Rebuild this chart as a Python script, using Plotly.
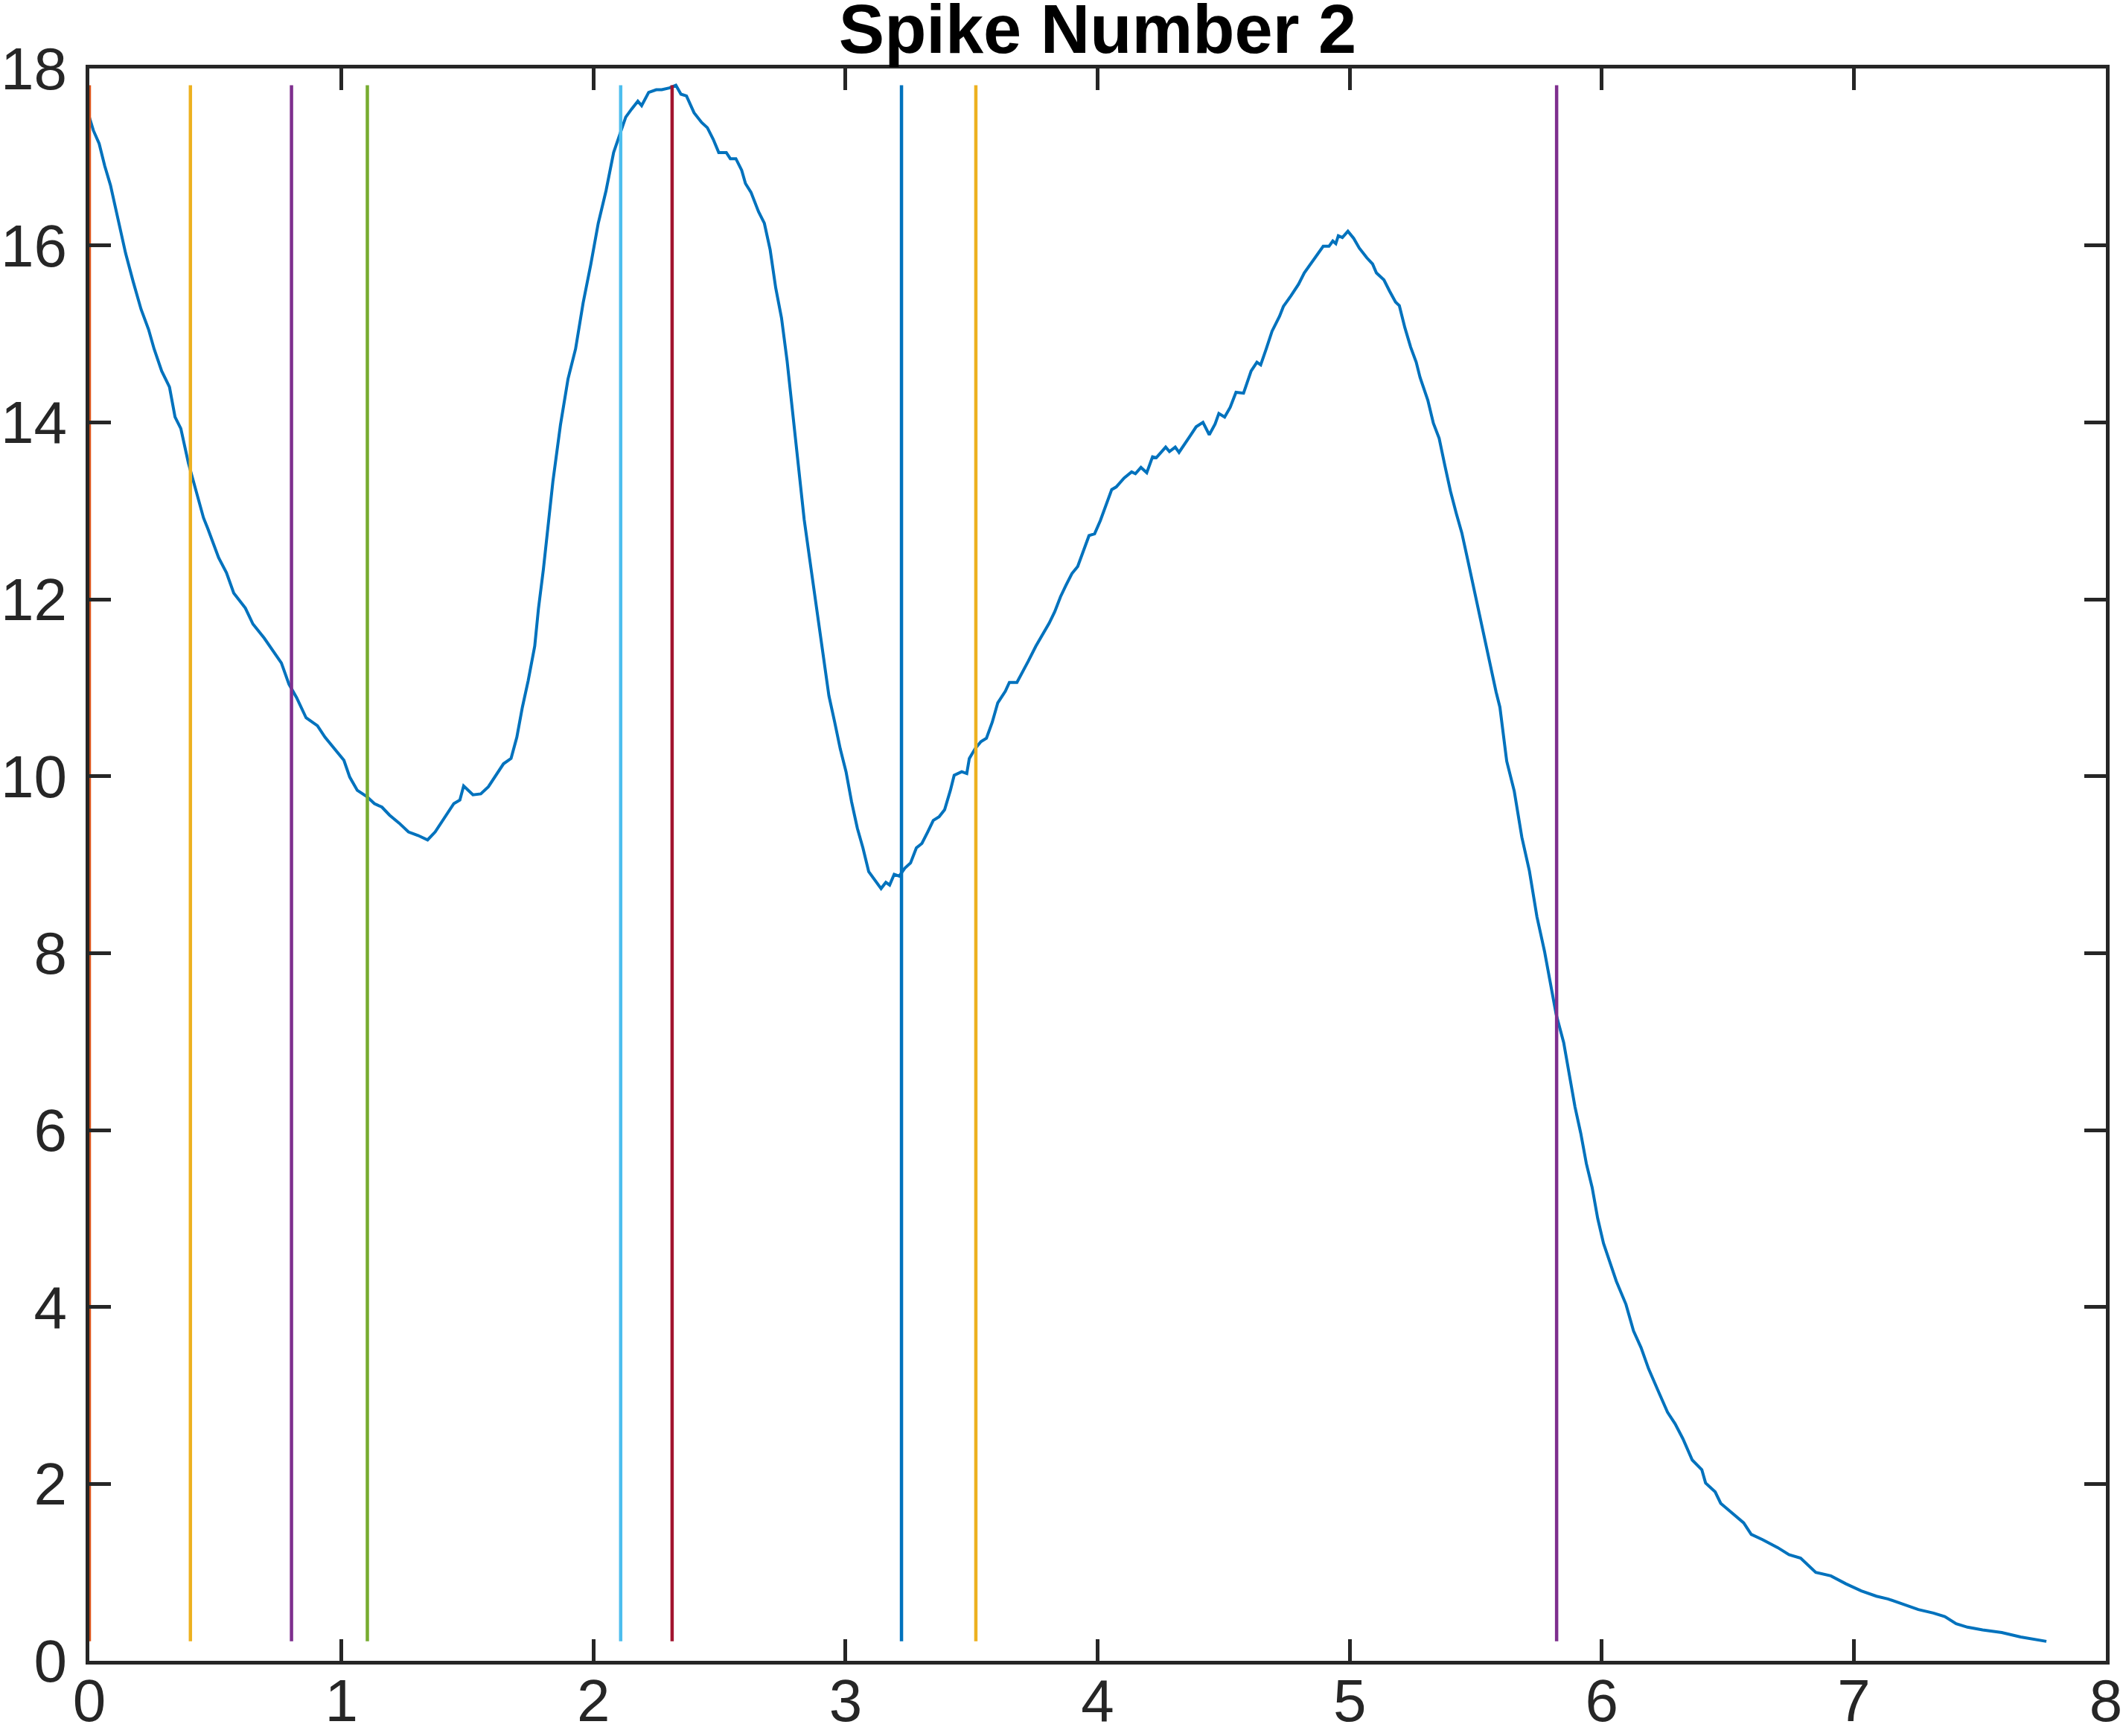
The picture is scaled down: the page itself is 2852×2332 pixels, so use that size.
"""
Spike Number 2 - trace with event markers, redrawn with Plotly
"""

import plotly.graph_objects as go

# time axis of the trace
t_values = [
    0.000, 0.016, 0.039, 0.061, 0.084, 0.107, 0.122, 0.144, 0.174, 0.205,
    0.235, 0.257, 0.287, 0.318, 0.340, 0.363, 0.393, 0.423, 0.453, 0.470,
    0.513, 0.544, 0.573, 0.619, 0.649, 0.694, 0.724, 0.762, 0.792, 0.822,
    0.860, 0.905, 0.935, 0.980, 1.010, 1.033, 1.063, 1.101, 1.131, 1.161,
    1.191, 1.229, 1.266, 1.304, 1.342, 1.372, 1.410, 1.446, 1.470, 1.485,
    1.522, 1.553, 1.583, 1.605, 1.643, 1.673, 1.696, 1.718, 1.741, 1.767,
    1.782, 1.801, 1.815, 1.839, 1.869, 1.899, 1.929, 1.959, 1.989, 2.019,
    2.050, 2.080, 2.110, 2.128, 2.151, 2.176, 2.191, 2.219, 2.249, 2.271,
    2.301, 2.327, 2.347, 2.369, 2.399, 2.429, 2.452, 2.475, 2.497, 2.527,
    2.543, 2.565, 2.588, 2.603, 2.625, 2.655, 2.678, 2.701, 2.723, 2.746,
    2.768, 2.791, 2.814, 2.836, 2.859, 2.889, 2.912, 2.934, 2.957, 2.979,
    3.002, 3.024, 3.047, 3.069, 3.092, 3.115, 3.141, 3.160, 3.175, 3.193,
    3.213, 3.235, 3.258, 3.281, 3.303, 3.326, 3.348, 3.371, 3.393, 3.416,
    3.431, 3.461, 3.481, 3.491, 3.514, 3.537, 3.559, 3.582, 3.604, 3.634,
    3.650, 3.680, 3.702, 3.725, 3.755, 3.785, 3.808, 3.830, 3.853, 3.875,
    3.898, 3.921, 3.943, 3.966, 3.988, 4.011, 4.056, 4.074, 4.105, 4.135,
    4.150, 4.172, 4.195, 4.218, 4.233, 4.255, 4.270, 4.285, 4.308, 4.323,
    4.345, 4.368, 4.391, 4.418, 4.443, 4.466, 4.481, 4.504, 4.526, 4.549,
    4.579, 4.609, 4.632, 4.647, 4.669, 4.692, 4.722, 4.737, 4.767, 4.797,
    4.820, 4.843, 4.873, 4.895, 4.918, 4.933, 4.945, 4.955, 4.971, 4.993,
    5.016, 5.038, 5.068, 5.091, 5.106, 5.136, 5.159, 5.182, 5.197, 5.219,
    5.242, 5.264, 5.279, 5.310, 5.332, 5.355, 5.377, 5.400, 5.423, 5.445,
    5.468, 5.490, 5.513, 5.535, 5.558, 5.581, 5.596, 5.623, 5.653, 5.683,
    5.713, 5.743, 5.773, 5.796, 5.819, 5.849, 5.871, 5.894, 5.917, 5.939,
    5.962, 5.984, 6.007, 6.045, 6.058, 6.096, 6.126, 6.156, 6.186, 6.224,
    6.261, 6.291, 6.322, 6.359, 6.397, 6.412, 6.450, 6.472, 6.517, 6.563,
    6.593, 6.638, 6.698, 6.743, 6.789, 6.849, 6.909, 6.969, 7.030, 7.090,
    7.135, 7.195, 7.256, 7.316, 7.361, 7.406, 7.451, 7.511, 7.587, 7.662,
    7.722, 7.764,
]

# trace values
spike_values = [
    17.45, 17.30, 17.15, 16.90, 16.68, 16.38, 16.21, 15.91, 15.59, 15.28,
    15.05, 14.83, 14.58, 14.40, 14.06, 13.93, 13.54, 13.24, 12.92, 12.80,
    12.47, 12.30, 12.07, 11.90, 11.72, 11.56, 11.43, 11.28, 11.04, 10.89,
    10.66, 10.57, 10.44, 10.29, 10.18, 9.99, 9.84, 9.77, 9.69, 9.65,
    9.56, 9.47, 9.37, 9.33, 9.28, 9.37, 9.54, 9.69, 9.73, 9.89,
    9.79, 9.80, 9.88, 9.97, 10.14, 10.20, 10.44, 10.78, 11.08, 11.47,
    11.90, 12.33, 12.70, 13.33, 13.97, 14.49, 14.83, 15.35, 15.78, 16.25,
    16.62, 17.05, 17.30, 17.45, 17.54, 17.63, 17.58, 17.73, 17.76, 17.76,
    17.78, 17.81, 17.71, 17.69, 17.50, 17.39, 17.33, 17.20, 17.05, 17.05,
    16.98, 16.98, 16.85, 16.70, 16.60, 16.38, 16.25, 15.95, 15.52, 15.18,
    14.70, 14.10, 13.46, 12.90, 12.43, 11.82, 11.34, 10.91, 10.61, 10.31,
    10.05, 9.71, 9.41, 9.19, 8.92, 8.83, 8.73, 8.80, 8.77, 8.89,
    8.87, 8.96, 9.02, 9.19, 9.24, 9.37, 9.50, 9.54, 9.62, 9.84,
    10.01, 10.05, 10.03, 10.20, 10.31, 10.39, 10.43, 10.61, 10.83, 10.96,
    11.06, 11.06, 11.17, 11.30, 11.47, 11.62, 11.73, 11.86, 12.03, 12.16,
    12.29, 12.37, 12.55, 12.72, 12.74, 12.89, 13.24, 13.27, 13.37, 13.44,
    13.42, 13.49, 13.43, 13.61, 13.60, 13.67, 13.72, 13.67, 13.72, 13.66,
    13.76, 13.85, 13.95, 14.00, 13.86, 13.98, 14.10, 14.06, 14.17, 14.34,
    14.33, 14.58, 14.68, 14.65, 14.83, 15.03, 15.20, 15.31, 15.43, 15.56,
    15.69, 15.78, 15.89, 15.99, 15.99, 16.05, 16.02, 16.11, 16.09, 16.16,
    16.08, 15.97, 15.86, 15.79, 15.69, 15.61, 15.48, 15.36, 15.32, 15.07,
    14.85, 14.68, 14.51, 14.25, 13.99, 13.82, 13.52, 13.22, 12.97, 12.75,
    12.45, 12.15, 11.85, 11.55, 11.25, 10.95, 10.78, 10.17, 9.83, 9.31,
    8.93, 8.41, 8.02, 7.68, 7.31, 6.99, 6.65, 6.26, 5.96, 5.62,
    5.35, 5.00, 4.72, 4.40, 4.29, 4.03, 3.73, 3.54, 3.30, 3.05,
    2.81, 2.68, 2.51, 2.27, 2.16, 2.01, 1.91, 1.78, 1.67, 1.56,
    1.43, 1.37, 1.28, 1.20, 1.16, 1.00, 0.96, 0.87, 0.79, 0.73,
    0.70, 0.64, 0.58, 0.54, 0.50, 0.42, 0.38, 0.35, 0.32, 0.27,
    0.24, 0.22,
]

# event markers drawn as vertical lines
event_times = [0.0, 0.401, 0.802, 1.103, 2.108, 2.312, 3.222, 3.517, 5.821]
event_colors = ['#D95319', '#EDB120', '#7E2F8E', '#77AC30', '#4DBEEE',
                '#A2142F', '#0072BD', '#EDB120', '#7E2F8E']

x_ticks = [0, 1, 2, 3, 4, 5, 6, 7, 8]
y_ticks = [0, 2, 4, 6, 8, 10, 12, 14, 16, 18]

AXIS_COLOR = '#262626'
FONT = 'Liberation Sans, Arial, sans-serif'

fig = go.Figure()

# main trace
fig.add_trace(go.Scatter(
    x=t_values,
    y=spike_values,
    mode='lines',
    line=dict(color='#0072BD', width=4),
    showlegend=False,
    hoverinfo='skip'
))

# vertical markers spanning min..max of the trace
y_lo = min(spike_values)
y_hi = max(spike_values)
for t, c in zip(event_times, event_colors):
    fig.add_trace(go.Scatter(
        x=[t, t],
        y=[y_lo, y_hi],
        mode='lines',
        line=dict(color=c, width=4.5),
        showlegend=False,
        hoverinfo='skip'
    ))

axis_style = dict(
    showgrid=False,
    zeroline=False,
    showline=True,
    linecolor=AXIS_COLOR,
    linewidth=5,
    mirror='ticks',
    ticks='inside',
    ticklen=29,
    tickwidth=5,
    tickcolor=AXIS_COLOR,
    automargin=False,
    tickfont=dict(family=FONT, size=80, color=AXIS_COLOR),
)

fig.update_xaxes(range=[0, 8], tickvals=x_ticks, ticklabelstandoff=-20, **axis_style)
fig.update_yaxes(range=[0, 18], tickvals=y_ticks, ticklabelstandoff=9, **axis_style)

fig.update_layout(
    title=dict(
        text='<b>Spike Number 2</b>',
        font=dict(family=FONT, size=92, color='black'),
        x=0.5,
        xref='paper',
        xanchor='center',
        y=1 - 39 / 2332,
        yref='container',
        yanchor='middle'
    ),
    width=2852,
    height=2332,
    autosize=False,
    margin=dict(l=120, r=23, t=92, b=101, pad=0),
    plot_bgcolor='white',
    paper_bgcolor='white',
)

fig.write_html(
    "out.html",
    config={'displayModeBar': False},
    post_script="document.body.style.margin='0';"
)
